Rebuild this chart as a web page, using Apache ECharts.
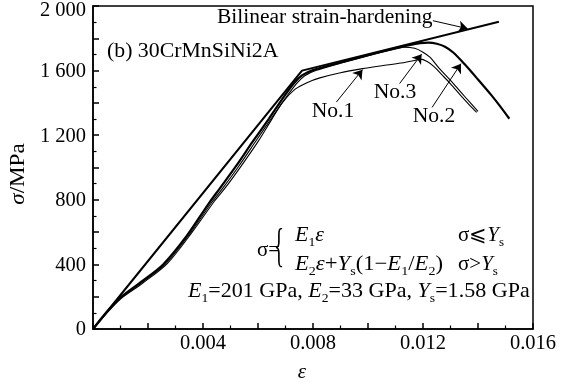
<!DOCTYPE html>
<html>
<head>
<meta charset="utf-8">
<script src="https://cdn.jsdelivr.net/npm/echarts/dist/echarts.min.js"></script>
<style>
  html, body { margin: 0; padding: 0; background: #fff; }
  #chart { width: 572px; height: 382px; }
</style>
</head>
<body>
<div id="chart"></div>
<script>
// Stress–strain curves for 30CrMnSiNi2A: three tests and the bilinear model
// (strain ε, stress σ in MPa)
const bilinear = [[0, 0], [0.0076, 1600], [0.01476, 1903]];

const no1 = [
  [0, 0], [0.0005, 98], [0.001, 186], [0.0018, 283], [0.0027, 405], [0.0036, 598],
  [0.0044, 788], [0.0048, 872], [0.0054, 1012], [0.006, 1160], [0.0065, 1298],
  [0.0069, 1405], [0.00735, 1485], [0.0078, 1527], [0.00825, 1555], [0.009, 1587],
  [0.0098, 1612], [0.0105, 1630], [0.0112, 1647], [0.0117, 1663], [0.0119, 1671],
  [0.01215, 1656], [0.0124, 1625], [0.0127, 1572], [0.013, 1518], [0.0134, 1440],
  [0.0137, 1385], [0.01395, 1342]
];

const no2 = [
  [0, 0], [0.0005, 105], [0.001, 196], [0.0018, 298], [0.00255, 400], [0.0034, 575],
  [0.0042, 775], [0.0046, 868], [0.0052, 1008], [0.0058, 1158], [0.0064, 1303],
  [0.0069, 1428], [0.0073, 1520], [0.0076, 1570], [0.008, 1603], [0.009, 1650],
  [0.01, 1695], [0.011, 1738], [0.0115, 1758], [0.0119, 1770], [0.0122, 1773],
  [0.0125, 1766], [0.0128, 1748], [0.0131, 1712], [0.0135, 1642], [0.014, 1545],
  [0.0145, 1445], [0.0148, 1380], [0.01514, 1302]
];

const no3 = [
  [0, 0], [0.0005, 101], [0.001, 191], [0.0018, 291], [0.00262, 400], [0.0035, 585],
  [0.0043, 780], [0.0047, 868], [0.0053, 1008], [0.0059, 1158], [0.0065, 1308],
  [0.007, 1430], [0.0074, 1520], [0.0077, 1568], [0.0081, 1600], [0.009, 1646],
  [0.01, 1692], [0.0108, 1727], [0.0113, 1745], [0.0117, 1738], [0.012, 1714],
  [0.01225, 1683], [0.0126, 1612], [0.013, 1540], [0.0134, 1462], [0.0137, 1405],
  [0.014, 1348]
];

const xTickLabels = ['0.004', '0.008', '0.012', '0.016'];
const yTickLabels = ['0', '400', '800', '1 200', '1 600', '2 000'];

const SERIF = 'Liberation Serif';
const chart = echarts.init(document.getElementById('chart'), null, { renderer: 'canvas' });

const axisLineStyle = { color: '#000', width: 1.5 };

// arrows from the labels to the curves they name
const arrowLines = [
  [{ coord: [0.01236, 1909] }, { coord: [0.01362, 1860] }],
  [{ coord: [0.00885, 1405] }, { coord: [0.0098, 1606] }],
  [{ coord: [0.01115, 1520] }, { coord: [0.01195, 1702] }],
  [{ coord: [0.01233, 1372] }, { coord: [0.01338, 1643] }]
];

const base = { fontFamily: SERIF, fontSize: 20, fill: '#000' };
const it = { fontFamily: SERIF, fontSize: 21, fontStyle: 'italic', lineHeight: 28 };
const rm = { fontFamily: SERIF, fontSize: 21, lineHeight: 28 };
const sub = { fontFamily: SERIF, fontSize: 13, lineHeight: 13, verticalAlign: 'bottom' };
const rich = { i: it, r: rm, s: sub };

// a text element, stretched slightly wider around its anchor point
function txt(x, y, text, align, sx) {
  return {
    type: 'text', x: x, y: y, scaleX: sx || 1.08, silent: true,
    style: Object.assign({ text: text, verticalAlign: 'middle', align: align || 'left', rich: rich }, base)
  };
}

chart.setOption({
  animation: false,
  backgroundColor: '#fff',
  grid: {
    left: 93, right: 39, top: 6, bottom: 53,
    show: true, borderColor: '#000', borderWidth: 1.5,
    containLabel: false, outerBoundsMode: 'none'
  },
  xAxis: {
    type: 'value', min: 0, max: 0.016, interval: 0.002,
    axisLine: { lineStyle: axisLineStyle },
    axisTick: { inside: true, length: 6, lineStyle: axisLineStyle },
    minorTick: { show: true, splitNumber: 2, length: 3.5, lineStyle: { color: '#000', width: 1.2 } },
    splitLine: { show: false },
    axisLabel: {
      margin: 4, color: '#000', fontFamily: SERIF, fontSize: 20.5,
      formatter: function (v) {
        const k = Math.round(v / 0.004);
        return (Math.abs(v - k * 0.004) < 1e-9 && k > 0) ? xTickLabels[k - 1] : '';
      }
    }
  },
  yAxis: {
    type: 'value', min: 0, max: 2000, interval: 200,
    axisLine: { lineStyle: axisLineStyle },
    axisTick: { inside: true, length: 6, lineStyle: axisLineStyle },
    minorTick: { show: true, splitNumber: 2, length: 3.5, lineStyle: { color: '#000', width: 1.2 } },
    splitLine: { show: false },
    axisLabel: {
      margin: 7, color: '#000', fontFamily: SERIF, fontSize: 20.5, padding: [2, 0, 0, 0],
      rich: { top: { fontFamily: SERIF, fontSize: 20.5, color: '#000', padding: [8, 0, 0, 0] } },
      formatter: function (v) {
        if (v % 400 !== 0) return '';
        const s = yTickLabels[v / 400];
        return v === 2000 ? '{top|' + s + '}' : s;
      }
    }
  },
  series: [
    {
      name: 'Bilinear strain-hardening', type: 'line', data: bilinear,
      showSymbol: false, lineStyle: { color: '#000', width: 2 }, silent: true,
      markLine: {
        silent: true, symbol: ['none', 'arrow'], symbolSize: 9,
        label: { show: false },
        lineStyle: { color: '#000', width: 1, type: 'solid' },
        emphasis: { disabled: true },
        data: arrowLines
      }
    },
    { name: 'No.1', type: 'line', data: no1, smooth: 0.3, showSymbol: false,
      lineStyle: { color: '#000', width: 1.1 }, silent: true },
    { name: 'No.3', type: 'line', data: no3, smooth: 0.3, showSymbol: false,
      lineStyle: { color: '#000', width: 1.1 }, silent: true },
    { name: 'No.2', type: 'line', data: no2, smooth: 0.3, showSymbol: false,
      lineStyle: { color: '#000', width: 2.2 }, silent: true }
  ],
  graphic: [
    txt(217, 18, 'Bilinear strain-hardening', 'left', 1.075),
    txt(107, 52, '(b) 30CrMnSiNi2A', 'left', 1.09),
    txt(333, 112, 'No.1', 'center'),
    txt(395, 93, 'No.3', 'center'),
    txt(434, 117, 'No.2', 'center'),
    // formula block
    txt(257, 250, '{r|σ=}', 'left', 1.0),
    { type: 'text', x: 279, y: 249, scaleX: 0.45, silent: true,
      style: { text: '{', fontFamily: SERIF, fontSize: 46, fill: '#000', align: 'center', verticalAlign: 'middle' } },
    txt(295, 235, '{i|E}{s|1}{i|ε}', 'left', 1.05),
    txt(458, 235, '{r|σ⩽}{i|Y}{s|s}', 'left', 1.0),
    txt(295, 264, '{i|E}{s|2}{i|ε}{r|+}{i|Y}{s|s}{r|(1−}{i|E}{s|1}{r|/}{i|E}{s|2}{r|)}', 'left', 1.08),
    txt(458, 264, '{r|σ>}{i|Y}{s|s}', 'left', 1.0),
    txt(188, 291, '{i|E}{s|1}{r|=201 GPa, }{i|E}{s|2}{r|=33 GPa, }{i|Y}{s|s}{r|=1.58 GPa}', 'left', 1.05),
    // axis titles
    { type: 'text', x: 18, y: 174, rotation: Math.PI / 2, scaleX: 1.1, silent: true,
      style: { text: '{i|σ}{r|/MPa}', rich: rich, fontFamily: SERIF, fontSize: 20, fill: '#000', align: 'center', verticalAlign: 'middle' } },
    { type: 'text', x: 302, y: 372, silent: true,
      style: { text: 'ε', fontFamily: SERIF, fontSize: 21, fontStyle: 'italic', fill: '#000', align: 'center', verticalAlign: 'middle' } }
  ]
});
</script>
</body>
</html>
